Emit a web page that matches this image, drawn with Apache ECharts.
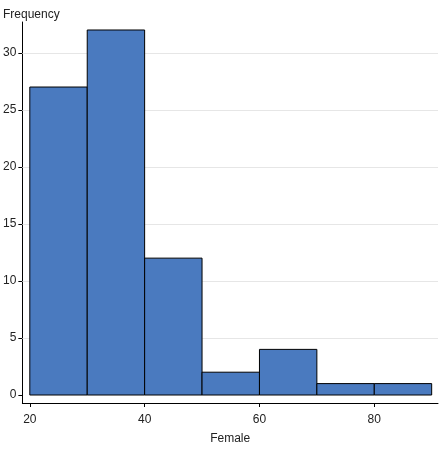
<!DOCTYPE html>
<html>
<head>
<meta charset="utf-8">
<script src="https://cdn.jsdelivr.net/npm/echarts@6/dist/echarts.min.js"></script>
<style>
  html, body { margin: 0; padding: 0; background: #fff; }
  #main { width: 442px; height: 450px; }
</style>
</head>
<body>
<div id="main"></div>
<script>
// histogram bins (Female) and counts
const binStarts = [20, 30, 40, 50, 60, 70, 80];
const binEnds = [30, 40, 50, 60, 70, 80, 90];
const frequencies = [27, 32, 12, 2, 4, 1, 1];
const xTicks = [20, 40, 60, 80];
const yTicks = [0, 5, 10, 15, 20, 25, 30];

const FONT = '"Liberation Sans", Arial, sans-serif';

const chart = echarts.init(document.getElementById('main'));

const data = binStarts.map((s, i) => [s, binEnds[i], frequencies[i]]);

const option = {
    backgroundColor: '#fff',
    animation: false,
    title: {
        text: 'Frequency',
        left: 3,
        top: 9,
        padding: 0,
        textStyle: { fontFamily: FONT, fontSize: 12, fontWeight: 'normal', color: '#222' }
    },
    grid: { left: 22, right: 4, top: 22, bottom: 43 },
    xAxis: {
        type: 'value',
        min: 18.7,
        max: 91.1,
        name: 'Female',
        nameLocation: 'middle',
        nameGap: 30,
        nameTextStyle: { fontFamily: FONT, fontSize: 12, color: '#222' },
        axisLine: { onZero: false, lineStyle: { color: '#000', width: 1 } },
        axisTick: { length: 4, customValues: xTicks, lineStyle: { color: '#000' } },
        axisLabel: { customValues: xTicks, fontFamily: FONT, fontSize: 12, color: '#222', margin: 11 },
        splitLine: { show: false }
    },
    yAxis: {
        type: 'value',
        min: -0.7,
        max: 32.7,
        axisLine: { show: true, onZero: false, lineStyle: { color: '#000', width: 1 } },
        axisTick: { show: true, length: 4, customValues: yTicks, lineStyle: { color: '#000' } },
        axisLabel: { customValues: yTicks, fontFamily: FONT, fontSize: 12, color: '#222', margin: 6 },
        splitLine: { show: false }
    },
    series: [
        {
            // light horizontal grid lines at the tick values
            type: 'line',
            data: [],
            markLine: {
                silent: true,
                symbol: 'none',
                label: { show: false },
                lineStyle: { color: '#e6e6e6', type: 'solid', width: 1 },
                data: yTicks.filter(v => v > 0).map(v => ({ yAxis: v }))
            }
        },
        {
            type: 'custom',
            zlevel: 1,
            data: data,
            renderItem: (params, api) => {
                const topLeft = api.coord([api.value(0), api.value(2)]);
                const bottomRight = api.coord([api.value(1), 0]);
                return {
                    type: 'rect',
                    shape: {
                        x: topLeft[0],
                        y: topLeft[1],
                        width: bottomRight[0] - topLeft[0],
                        height: bottomRight[1] - topLeft[1]
                    },
                    style: { fill: '#4a7abf', stroke: '#000', lineWidth: 1 }
                };
            },
            encode: { x: [0, 1], y: 2 }
        }
    ]
};

chart.setOption(option);
window.addEventListener('resize', () => chart.resize());
</script>
</body>
</html>
